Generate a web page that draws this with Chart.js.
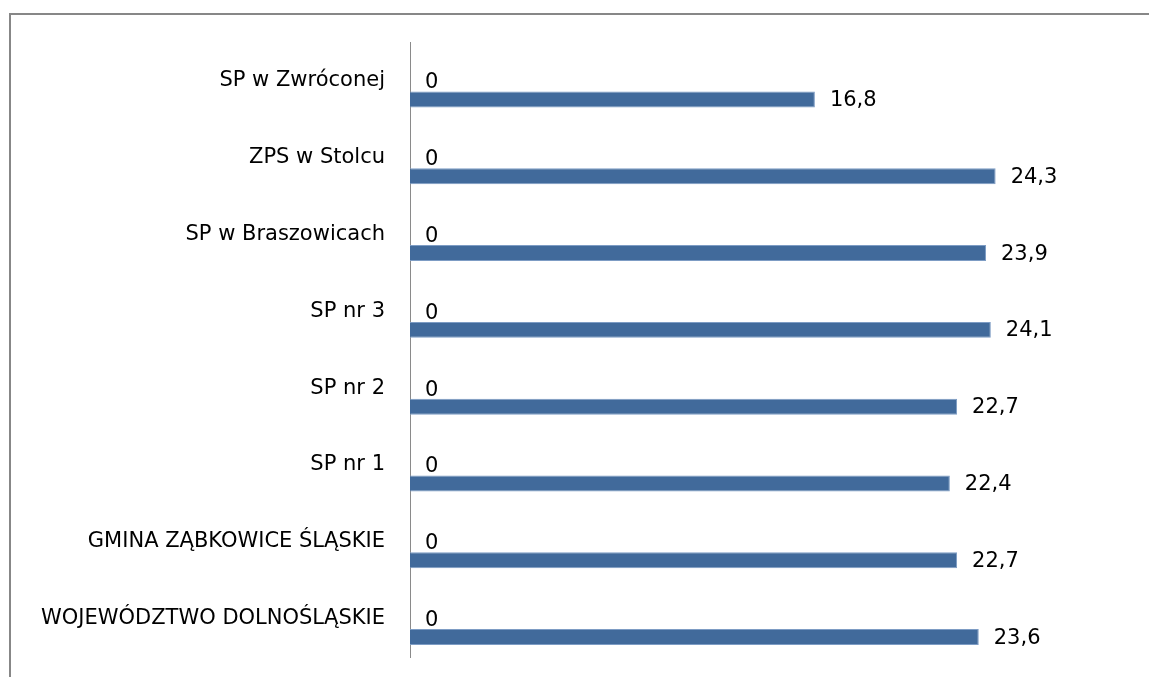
<!DOCTYPE html>
<html>
<head>
<meta charset="utf-8">
<script src="https://cdn.jsdelivr.net/npm/chart.js@4/dist/chart.umd.min.js"></script>
<style>
  html, body { margin: 0; padding: 0; background: #ffffff; }
  #wrap { width: 1149px; height: 677px; position: relative; }
</style>
</head>
<body>
<div id="wrap"><canvas id="c" width="1149" height="677"></canvas></div>
<script>
const categories = [
  'SP w Zwróconej',
  'ZPS w Stolcu',
  'SP w Braszowicach',
  'SP nr 3',
  'SP nr 2',
  'SP nr 1',
  'GMINA ZĄBKOWICE ŚLĄSKIE',
  'WOJEWÓDZTWO DOLNOŚLĄSKIE'
];
const zeroSeries = [0, 0, 0, 0, 0, 0, 0, 0];
const valueSeries = [16.8, 24.3, 23.9, 24.1, 22.7, 22.4, 22.7, 23.6];

const FONT = { family: '"DejaVu Sans", sans-serif', size: 21 };
const fmt = v => String(v).replace('.', ',');

const framePlugin = {
  id: 'frame',
  beforeDraw(chart) {
    const ctx = chart.ctx;
    ctx.save();
    ctx.fillStyle = '#ffffff';
    ctx.fillRect(0, 0, chart.width, chart.height);
    ctx.strokeStyle = '#878787';
    ctx.lineWidth = 2;
    ctx.strokeRect(10, 14, 1400, 900);
    ctx.restore();
  }
};

const labelPlugin = {
  id: 'valueLabels',
  afterDatasetsDraw(chart) {
    const ctx = chart.ctx;
    const xs = chart.scales.x, ys = chart.scales.y;
    ctx.save();
    ctx.font = FONT.size + 'px ' + FONT.family;
    ctx.fillStyle = '#000000';
    ctx.textAlign = 'left';
    ctx.textBaseline = 'middle';
    const meta = chart.getDatasetMeta(1);
    meta.data.forEach((bar, i) => {
      ctx.fillText(fmt(valueSeries[i]), bar.x + 15, bar.y + 1);
    });
    zeroSeries.forEach((v, i) => {
      ctx.fillText(fmt(v), xs.getPixelForValue(v) + 15, ys.getPixelForValue(i) + 2);
    });
    ctx.restore();
  }
};

new Chart(document.getElementById('c'), {
  type: 'bar',
  data: {
    labels: categories,
    datasets: [
      { label: 'zero', data: zeroSeries, backgroundColor: '#416a9b',
        categoryPercentage: 0.9626, barPercentage: 0.432 },
      { label: 'value', data: valueSeries, backgroundColor: '#416a9b',
        borderColor: '#7d9cc4', borderWidth: 1, borderSkipped: 'start',
        categoryPercentage: 0.9626, barPercentage: 0.432 }
    ]
  },
  options: {
    indexAxis: 'y',
    responsive: false,
    animation: false,
    devicePixelRatio: 1,
    layout: { padding: { left: 0, top: 42.6, right: 16, bottom: 20 } },
    plugins: { legend: { display: false }, tooltip: { enabled: false } },
    scales: {
      x: { display: false, min: 0, max: 30 },
      y: {
        position: 'left',
        grid: { display: false, drawTicks: false },
        border: { display: true, color: '#8a8a8a', width: 1 },
        ticks: { color: '#000000', font: FONT, padding: 25 },
        afterFit(scale) {
          scale.width = 410;
          scale.paddingTop = 0;
          scale.paddingBottom = 0;
        }
      }
    }
  },
  plugins: [framePlugin, labelPlugin]
});
</script>
</body>
</html>
